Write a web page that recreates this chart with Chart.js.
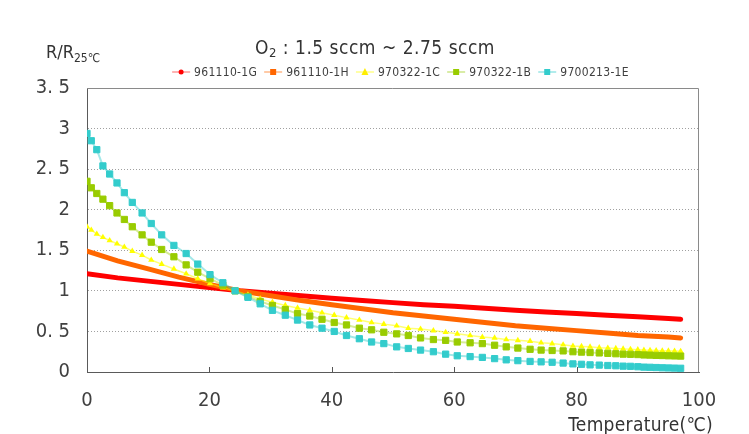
<!DOCTYPE html>
<html>
<head>
<meta charset="utf-8">
<script src="https://cdn.jsdelivr.net/npm/chart.js@4.4.1/dist/chart.umd.min.js"></script>
<style>
  html, body { margin: 0; padding: 0; background: #fff; }
</style>
</head>
<body>
<canvas id="graph" width="749" height="434"></canvas>
<script>
"use strict";

const seriesNames = ["961110-1G", "961110-1H", "970322-1C", "970322-1B", "9700213-1E"];

// the two thick bands (1G, 1H), read every 5 degrees
const bandTemps = [0, 5, 10, 15, 20, 25, 30, 35, 40, 45, 50, 55, 60, 65, 70, 75, 80, 85, 90, 95, 97];
const red1G = [1.21, 1.16, 1.12, 1.08, 1.04, 1.00, 0.97, 0.94, 0.91, 0.88, 0.855, 0.83, 0.81, 0.785, 0.76, 0.74, 0.72, 0.70, 0.68, 0.66, 0.65];
const orange1H = [1.49, 1.37, 1.27, 1.17, 1.08, 1.00, 0.94, 0.88, 0.83, 0.78, 0.73, 0.69, 0.65, 0.61, 0.57, 0.54, 0.51, 0.48, 0.45, 0.43, 0.42];

// marker series (1C, 1B, 1E) share the same temperature points
const markTemps = [
  0, 0.7, 1.6, 2.6, 3.7, 4.9, 6.1, 7.4, 9.0, 10.5,
  12.2, 14.2, 16.2, 18.1, 20.1, 22.2, 24.2, 26.3, 28.3, 30.3,
  32.4, 34.4, 36.4, 38.4, 40.4, 42.4, 44.5, 46.5, 48.5, 50.6,
  52.5, 54.5, 56.6, 58.6, 60.5, 62.6, 64.6, 66.6, 68.5, 70.4,
  72.4, 74.2, 76.0, 77.8, 79.4, 80.8, 82.2, 83.7, 85.1, 86.4,
  87.6, 88.8, 90.0, 91.0, 92.0, 93.0, 94.0, 95.0, 96.0, 97.0
];
const yellow1C = [
  1.79, 1.75, 1.70, 1.66, 1.62, 1.58, 1.54, 1.49, 1.44, 1.38,
  1.33, 1.27, 1.21, 1.15, 1.09, 1.04, 1.00, 0.95, 0.90, 0.86,
  0.82, 0.79, 0.76, 0.73, 0.70, 0.67, 0.64, 0.61, 0.59, 0.57,
  0.54, 0.53, 0.51, 0.49, 0.47, 0.45, 0.43, 0.42, 0.40, 0.39,
  0.38, 0.36, 0.35, 0.335, 0.32, 0.315, 0.31, 0.30, 0.295, 0.29,
  0.285, 0.28, 0.275, 0.27, 0.268, 0.265, 0.262, 0.26, 0.258, 0.255
];
const green1B = [
  2.35, 2.27, 2.20, 2.13, 2.05, 1.96, 1.88, 1.79, 1.69, 1.60,
  1.51, 1.42, 1.32, 1.23, 1.15, 1.07, 1.00, 0.93, 0.87, 0.82,
  0.77, 0.72, 0.69, 0.65, 0.61, 0.58, 0.54, 0.52, 0.49, 0.47,
  0.45, 0.42, 0.40, 0.39, 0.37, 0.36, 0.35, 0.33, 0.31, 0.295,
  0.28, 0.27, 0.265, 0.26, 0.25, 0.245, 0.24, 0.235, 0.23, 0.225,
  0.22, 0.218, 0.215, 0.21, 0.208, 0.205, 0.203, 0.20, 0.198, 0.196
];
const cyan1E = [
  2.94, 2.85, 2.74, 2.54, 2.44, 2.33, 2.21, 2.09, 1.96, 1.83,
  1.69, 1.56, 1.46, 1.33, 1.20, 1.10, 1.00, 0.92, 0.84, 0.76,
  0.70, 0.64, 0.58, 0.54, 0.50, 0.45, 0.41, 0.37, 0.35, 0.31,
  0.29, 0.27, 0.25, 0.22, 0.20, 0.19, 0.18, 0.165, 0.15, 0.14,
  0.13, 0.125, 0.12, 0.11, 0.10, 0.095, 0.088, 0.085, 0.08, 0.077,
  0.072, 0.07, 0.065, 0.06, 0.058, 0.055, 0.052, 0.05, 0.048, 0.046
];

const xTicks = [0, 20, 40, 60, 80, 100];
const yTicks = [0, 0.5, 1, 1.5, 2, 2.5, 3, 3.5];

const NARROW = "'Liberation Sans Narrow', 'DejaVu Sans Condensed', 'Liberation Sans', sans-serif";
const TEXT = "#404040";

function pts(xs, ys) {
  return xs.map((x, i) => ({ x: x, y: ys[i] }));
}

function drawMark(ctx, style, x, y, r, color) {
  ctx.fillStyle = color;
  ctx.beginPath();
  if (style === "rect") {
    ctx.rect(x - r, y - r, 2 * r, 2 * r);
  } else if (style === "triangle") {
    ctx.moveTo(x, y - r - 1);
    ctx.lineTo(x + r + 0.5, y + r);
    ctx.lineTo(x - r - 0.5, y + r);
    ctx.closePath();
  } else {
    ctx.arc(x, y, r, 0, Math.PI * 2);
  }
  ctx.fill();
}

const decor = {
  id: "decor",
  beforeDatasetsDraw(chart) {
    const { ctx, chartArea: a, scales } = chart;
    ctx.save();
    ctx.lineWidth = 1;
    ctx.strokeStyle = "#8a8a8a";
    ctx.beginPath();
    ctx.moveTo(a.left, a.top + 0.5);
    ctx.lineTo(a.right - 0.5, a.top + 0.5);
    ctx.lineTo(a.right - 0.5, a.bottom);
    ctx.stroke();
    // small inward ticks on the temperature axis
    ctx.strokeStyle = "#555";
    ctx.beginPath();
    xTicks.forEach((t) => {
      if (t > 0 && t < 100) {
        const x = Math.round(scales.x.getPixelForValue(t)) + 0.5;
        ctx.moveTo(x, a.bottom);
        ctx.lineTo(x, a.bottom - 5);
      }
    });
    ctx.stroke();
    ctx.restore();
  },
  afterDraw(chart) {
    const { ctx } = chart;
    ctx.save();
    ctx.fillStyle = "#333";
    ctx.textBaseline = "alphabetic";
    ctx.textAlign = "left";

    // title: O2 : 1.5 sccm ~ 2.75 sccm
    ctx.letterSpacing = "0.5px";
    ctx.font = "19px " + NARROW;
    const t1 = "O";
    const t3 = " : 1.5 sccm ~ 2.75 sccm";
    const w1 = ctx.measureText(t1).width;
    const w3 = ctx.measureText(t3).width;
    ctx.font = "13px " + NARROW;
    const w2 = ctx.measureText("2").width;
    let tx = 375 - (w1 + w2 + w3) / 2;
    ctx.font = "19px " + NARROW;
    ctx.fillText(t1, tx, 54);
    ctx.font = "13px " + NARROW;
    ctx.fillText("2", tx + w1, 57);
    ctx.font = "19px " + NARROW;
    ctx.fillText(t3, tx + w1 + w2, 54);

    // y label: R/R25℃
    ctx.letterSpacing = "0px";
    ctx.font = "18px " + NARROW;
    ctx.fillText("R/R", 46, 58);
    const wr = ctx.measureText("R/R").width;
    ctx.font = "12px " + NARROW;
    ctx.fillText("25℃", 46 + wr, 62);

    // x label
    ctx.letterSpacing = "0.3px";
    ctx.font = "19px " + NARROW;
    ctx.textAlign = "right";
    ctx.fillText("Temperature(℃)", 713, 431);

    // legend
    ctx.textAlign = "left";
    ctx.textBaseline = "middle";
    ctx.letterSpacing = "0.3px";
    ctx.font = "12px " + NARROW;
    const ds = chart.data.datasets;
    const order = [0, 1, 2, 3, 4];
    const widths = order.map((i) => ctx.measureText(seriesNames[i]).width);
    const lineW = 18, gapA = 4, gapB = 7;
    const total = widths.reduce((s, w) => s + lineW + gapA + w, 0) + gapB * (order.length - 1);
    let lx = 400.5 - total / 2;
    const ly = 72;
    order.forEach((i, k) => {
      const d = ds[i];
      ctx.strokeStyle = d.legendLine;
      ctx.lineWidth = 1.5;
      ctx.beginPath();
      ctx.moveTo(lx, ly);
      ctx.lineTo(lx + lineW, ly);
      ctx.stroke();
      drawMark(ctx, d.legendMark, lx + lineW / 2, ly, d.legendMark === "circle" ? 2.5 : 3, d.legendColor);
      ctx.fillStyle = TEXT;
      ctx.fillText(seriesNames[i], lx + lineW + gapA, ly + 1);
      lx += lineW + gapA + widths[k] + gapB;
    });
    ctx.restore();
  }
};

function fmtTick(v) {
  return String(v).replace(".", ". ");
}

const ctx = document.getElementById("graph").getContext("2d");
new Chart(ctx, {
  type: "line",
  data: {
    datasets: [
      {
        label: seriesNames[0],
        data: pts(bandTemps, red1G),
        borderColor: "#ff0000",
        borderWidth: 5,
        borderCapStyle: "round",
        pointRadius: 0,
        order: 4,
        legendLine: "#ff9a9a",
        legendColor: "#ff0000",
        legendMark: "circle"
      },
      {
        label: seriesNames[1],
        data: pts(bandTemps, orange1H),
        borderColor: "#ff6600",
        borderWidth: 5,
        borderCapStyle: "round",
        pointRadius: 0,
        order: 3,
        legendLine: "#ffb888",
        legendColor: "#ff6600",
        legendMark: "rect"
      },
      {
        label: seriesNames[2],
        data: pts(markTemps, yellow1C),
        borderColor: "rgba(255,255,0,0.55)",
        borderWidth: 1.5,
        pointStyle: "triangle",
        pointRadius: 3.6,
        pointBorderWidth: 0,
        pointBackgroundColor: "#ffff00",
        order: 2,
        legendLine: "#ffff88",
        legendColor: "#ffee00",
        legendMark: "triangle"
      },
      {
        label: seriesNames[3],
        data: pts(markTemps, green1B),
        borderColor: "rgba(153,204,0,0.4)",
        borderWidth: 2,
        pointStyle: "rect",
        pointRadius: 4.4,
        pointBorderWidth: 1,
        pointBorderColor: "#99cc00",
        pointBackgroundColor: "#99cc00",
        order: 1,
        legendLine: "#cce688",
        legendColor: "#99cc00",
        legendMark: "rect"
      },
      {
        label: seriesNames[4],
        data: pts(markTemps, cyan1E),
        borderColor: "rgba(51,204,204,0.45)",
        borderWidth: 2,
        pointStyle: "rect",
        pointRadius: 4.4,
        pointBorderWidth: 1,
        pointBorderColor: "#33cccc",
        pointBackgroundColor: "#33cccc",
        order: 0,
        legendLine: "#99e6e6",
        legendColor: "#33cccc",
        legendMark: "rect"
      }
    ]
  },
  options: {
    responsive: false,
    animation: false,
    events: [],
    layout: { padding: { top: 88, left: 0, right: 50, bottom: 0 } },
    elements: { line: { tension: 0 } },
    plugins: {
      legend: { display: false },
      title: { display: false },
      tooltip: { enabled: false }
    },
    scales: {
      x: {
        type: "linear",
        min: 0,
        max: 100,
        afterBuildTicks: (s) => { s.ticks = xTicks.map((v) => ({ value: v })); },
        afterFit: (s) => { s.height = 62; s.paddingLeft = 0; s.paddingRight = 0; },
        grid: { display: false, drawTicks: false },
        border: { color: "#5a5a5a", width: 1 },
        ticks: {
          padding: 17,
          maxRotation: 0,
          autoSkip: false,
          color: TEXT,
          font: { family: NARROW, size: 20 },
          callback: fmtTick
        }
      },
      y: {
        type: "linear",
        min: 0,
        max: 3.5,
        afterBuildTicks: (s) => { s.ticks = yTicks.map((v) => ({ value: v })); },
        afterFit: (s) => { s.width = 87; s.paddingTop = 0; s.paddingBottom = 0; },
        grid: {
          drawTicks: false,
          color: (c) => (c.tick && (c.tick.value === 0 || c.tick.value === 3.5)) ? "rgba(0,0,0,0)" : "#a0a0a0"
        },
        border: { color: "#5a5a5a", width: 1, dash: [1, 2] },
        ticks: {
          padding: 17,
          autoSkip: false,
          color: TEXT,
          font: { family: NARROW, size: 20 },
          callback: fmtTick
        }
      }
    }
  },
  plugins: [decor]
});
</script>
</body>
</html>
